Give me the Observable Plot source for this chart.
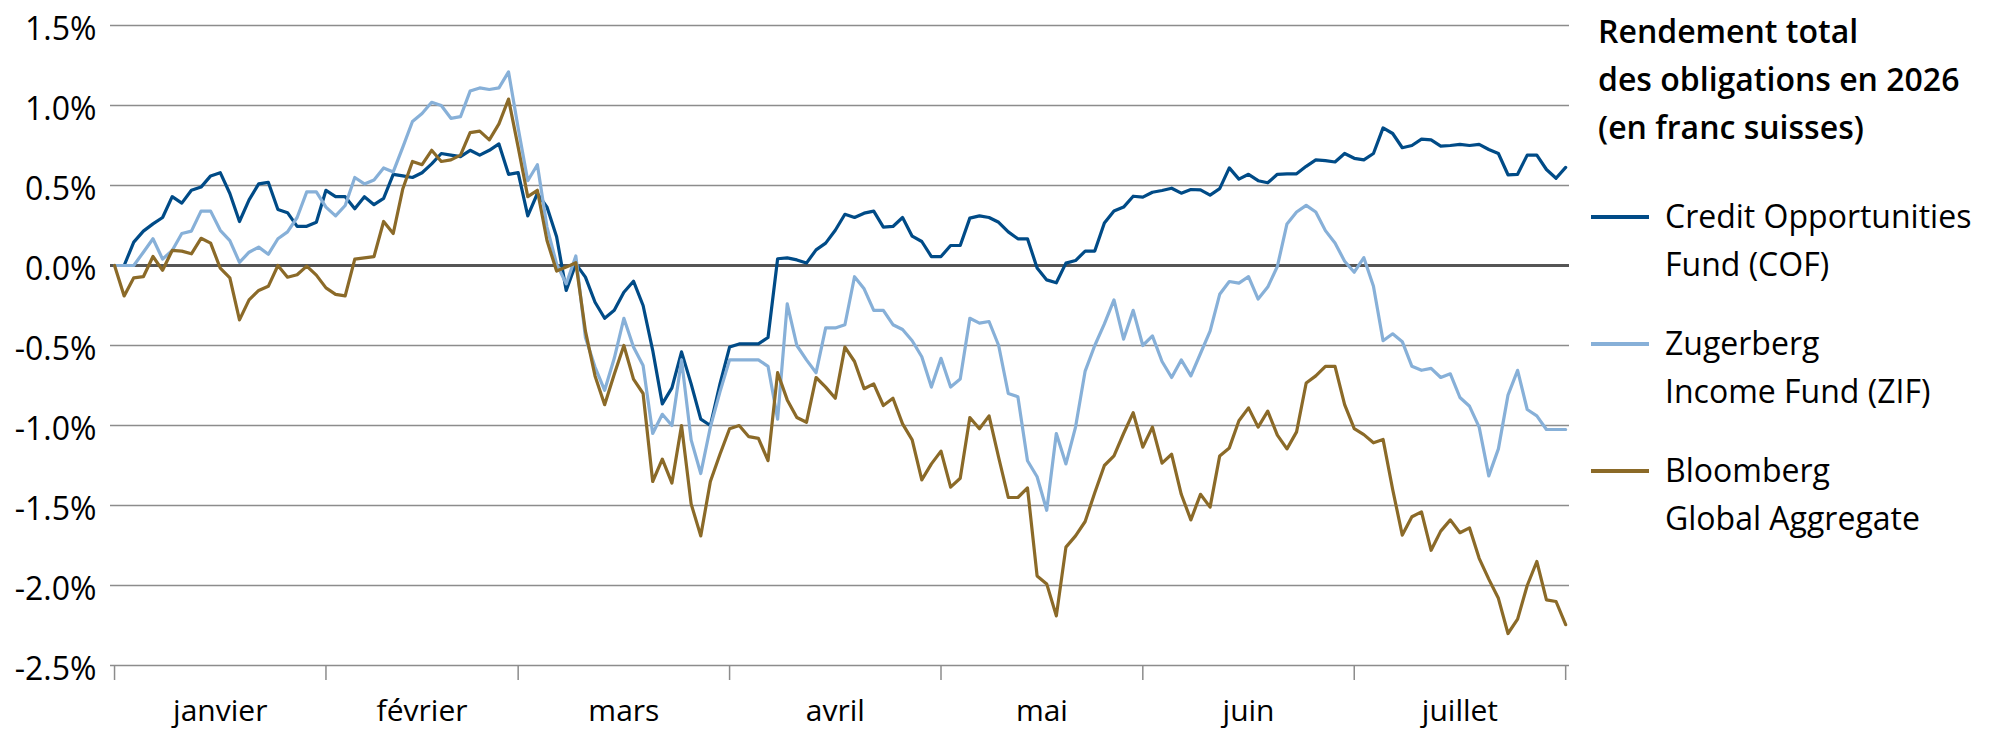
<!DOCTYPE html>
<html>
<head>
<meta charset="utf-8">
<script src="https://cdn.jsdelivr.net/npm/d3@7"></script>
<script src="https://cdn.jsdelivr.net/npm/@observablehq/plot@0.6"></script>
<style>
  body { margin: 0; background: #fff; }
  #wrap { position: relative; width: 2000px; height: 753px; font-family: "Open Sans", sans-serif; color: #000; }
  #chart { position: absolute; left: 0; top: 0; }
  .lg { position: absolute; font-size: 32px; line-height: 48px; white-space: nowrap; }
  .lg-title { font-weight: 600; }
  .sw { position: absolute; width: 58px; height: 4px; }
</style>
</head>
<body>
<div id="wrap"><div id="chart"></div><div id="legend"></div></div>
<script>
const monthLabels = ["janvier", "février", "mars", "avril", "mai", "juin", "juillet"];
const monthBounds = [0, 22, 42, 64, 86, 107, 129, 151];
const yTicks = [1.5, 1.0, 0.5, 0.0, -0.5, -1.0, -1.5, -2.0, -2.5];
const seriesNames = ["Credit Opportunities Fund (COF)", "Zugerberg Income Fund (ZIF)", "Bloomberg Global Aggregate"];
const legendLines = [["Credit Opportunities", "Fund (COF)"], ["Zugerberg", "Income Fund (ZIF)"], ["Bloomberg", "Global Aggregate"]];
const seriesColors = ["#004b87", "#87b0d8", "#8b6a28"];
const legendTitle = ["Rendement total", "des obligations en 2026", "(en franc suisses)"];

const cof = [0,0,0.146,0.215,0.26,0.30,0.43,0.39,0.47,0.49,0.56,0.58,0.45,0.275,0.41,0.51,0.52,0.35,0.33,0.245,
0.245,0.27,0.47,0.43,0.43,0.355,0.43,0.38,0.42,0.57,0.56,0.55,0.58,0.635,0.70,0.69,0.68,0.72,0.69,0.72,
0.76,0.57,0.58,0.31,0.45,0.365,0.18,-0.156,0.01,-0.073,-0.23,-0.33,-0.28,-0.167,-0.098,-0.25,-0.53,-0.865,-0.765,-0.54,
-0.74,-0.96,-1.0,-0.74,-0.51,-0.49,-0.49,-0.49,-0.45,0.042,0.048,0.035,0.015,0.098,0.14,0.22,0.32,0.30,0.327,0.34,
0.24,0.244,0.30,0.183,0.15,0.056,0.056,0.125,0.125,0.296,0.31,0.30,0.27,0.21,0.167,0.167,-0.015,-0.09,-0.108,0.015,
0.031,0.09,0.09,0.265,0.34,0.365,0.433,0.427,0.458,0.469,0.483,0.452,0.475,0.473,0.44,0.48,0.61,0.54,0.57,0.53,
0.517,0.57,0.573,0.573,0.62,0.66,0.655,0.647,0.70,0.67,0.66,0.70,0.86,0.825,0.736,0.75,0.79,0.785,0.746,0.75,
0.757,0.75,0.757,0.725,0.70,0.567,0.57,0.69,0.69,0.60,0.545,0.613];

const zif = [0,0,0,0.083,0.167,0.04,0.094,0.20,0.215,0.34,0.34,0.22,0.156,0.02,0.083,0.115,0.07,0.167,0.21,0.30,
0.46,0.46,0.365,0.31,0.375,0.55,0.51,0.535,0.61,0.585,0.74,0.90,0.95,1.02,1.00,0.92,0.93,1.09,1.11,1.10,
1.11,1.21,0.86,0.53,0.63,0.24,0.01,-0.115,0.06,-0.45,-0.635,-0.78,-0.58,-0.33,-0.51,-0.625,-1.05,-0.93,-1.0,-0.59,
-1.09,-1.30,-1.01,-0.79,-0.59,-0.59,-0.59,-0.59,-0.63,-0.96,-0.24,-0.50,-0.59,-0.67,-0.39,-0.39,-0.37,-0.07,-0.146,-0.28,
-0.28,-0.37,-0.40,-0.47,-0.57,-0.76,-0.58,-0.76,-0.71,-0.33,-0.36,-0.35,-0.50,-0.80,-0.82,-1.22,-1.32,-1.53,-1.05,-1.24,
-1.01,-0.66,-0.50,-0.365,-0.215,-0.46,-0.28,-0.50,-0.44,-0.60,-0.70,-0.59,-0.69,-0.55,-0.41,-0.18,-0.10,-0.11,-0.07,-0.21,
-0.135,-0.006,0.26,0.334,0.376,0.334,0.218,0.14,0.027,-0.042,0.049,-0.13,-0.47,-0.427,-0.476,-0.63,-0.655,-0.643,-0.70,-0.677,
-0.825,-0.88,-1.01,-1.315,-1.146,-0.81,-0.655,-0.90,-0.94,-1.025,-1.025,-1.025];

const bga = [0,-0.19,-0.077,-0.07,0.056,-0.03,0.094,0.09,0.073,0.17,0.14,-0.017,-0.077,-0.34,-0.215,-0.156,-0.13,0,-0.073,-0.058,
-0.004,-0.06,-0.14,-0.18,-0.19,0.04,0.048,0.056,0.275,0.20,0.48,0.65,0.63,0.72,0.65,0.66,0.69,0.83,0.84,0.785,
0.885,1.04,0.74,0.43,0.47,0.156,-0.035,-0.01,0.017,-0.41,-0.69,-0.87,-0.68,-0.50,-0.71,-0.80,-1.35,-1.21,-1.36,-1.0,
-1.49,-1.69,-1.35,-1.18,-1.02,-1.0,-1.07,-1.08,-1.22,-0.67,-0.84,-0.95,-0.98,-0.70,-0.76,-0.83,-0.51,-0.60,-0.77,-0.74,
-0.875,-0.83,-0.99,-1.09,-1.34,-1.24,-1.16,-1.385,-1.33,-0.95,-1.02,-0.94,-1.20,-1.45,-1.45,-1.39,-1.94,-1.99,-2.19,-1.76,
-1.69,-1.60,-1.42,-1.25,-1.19,-1.05,-0.92,-1.135,-1.01,-1.235,-1.18,-1.43,-1.59,-1.43,-1.51,-1.19,-1.14,-0.97,-0.89,-1.01,
-0.91,-1.06,-1.146,-1.04,-0.734,-0.69,-0.63,-0.63,-0.87,-1.02,-1.057,-1.108,-1.087,-1.40,-1.685,-1.57,-1.54,-1.78,-1.66,-1.59,
-1.67,-1.64,-1.83,-1.96,-2.08,-2.30,-2.21,-2.00,-1.85,-2.09,-2.10,-2.245];

const data = [];
[cof, zif, bga].forEach((arr, s) => arr.forEach((v, i) => data.push({ i, v, s: seriesNames[s] })));
const mids = monthLabels.map((m, k) => (monthBounds[k] + monthBounds[k + 1]) / 2);

const plot = Plot.plot({
  width: 2000,
  height: 753,
  marginLeft: 110,
  marginRight: 431,
  marginTop: 25,
  marginBottom: 88,
  style: { fontFamily: "Open Sans", fontSize: "30px", color: "#000", background: "white" },
  x: { type: "linear", domain: [-0.42, 151.4], label: null },
  y: { domain: [-2.5, 1.5], label: null },
  color: { domain: seriesNames, range: seriesColors },
  marks: [
    Plot.ruleY(yTicks.filter(d => d !== 0), { stroke: "#8c8c8c", strokeWidth: 1.5 }),
    Plot.axisY({ ticks: yTicks, tickSize: 0, tickPadding: 14, dy: 4, fontSize: 32, fill: "#000",
      tickFormat: d => d.toFixed(1) + "%" }),
    Plot.axisX({ ticks: monthBounds, tickSize: 15, tickFormat: () => "", stroke: "#8c8c8c", strokeWidth: 1.5 }),
    Plot.axisX({ ticks: mids, tickSize: 0, tickPadding: 34, fontSize: 30, fill: "#000",
      tickFormat: d => monthLabels[mids.indexOf(d)] }),
    Plot.ruleY([0], { stroke: "#555555", strokeWidth: 3 }),
    Plot.line(data, { x: "i", y: "v", z: "s", stroke: "s", strokeWidth: 3.2, strokeLinejoin: "round" })
  ]
});
document.getElementById("chart").appendChild(plot);

// legend
const lg = document.getElementById("legend");
const t = document.createElement("div");
t.className = "lg lg-title";
t.style.left = "1598px";
t.style.top = "7px";
t.innerHTML = legendTitle.join("<br>");
lg.appendChild(t);
const itemTops = [192, 319, 446];
legendLines.forEach((lines, k) => {
  const sw = document.createElement("div");
  sw.className = "sw";
  sw.style.left = "1591px";
  sw.style.top = (itemTops[k] + 23) + "px";
  sw.style.background = seriesColors[k];
  lg.appendChild(sw);
  const d = document.createElement("div");
  d.className = "lg";
  d.style.left = "1665px";
  d.style.top = itemTops[k] + "px";
  d.innerHTML = lines.join("<br>");
  lg.appendChild(d);
});
</script>
</body>
</html>
